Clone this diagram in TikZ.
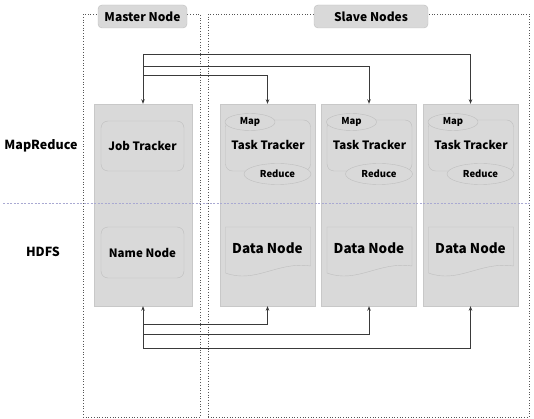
\documentclass[tikz,border=0pt]{standalone}
\usepackage{fontspec}
\setmainfont{Noto Sans CJK KR}
\usetikzlibrary{arrows.meta,shapes.geometric}
\definecolor{colfill}{HTML}{D9D9D9}
\definecolor{colline}{HTML}{C8C8C8}
\definecolor{inline}{HTML}{BEBEBE}
\definecolor{arrcol}{HTML}{3A3A3A}
\definecolor{sepcol}{HTML}{A9A9D2}
\definecolor{dotcol}{HTML}{555555}
\begin{document}
\begin{tikzpicture}[x=1pt,y=-1pt,
  outerbox/.style={draw=dotcol, dotted, line width=0.7pt, inner sep=0},
  lab/.style={draw=inline, fill=colfill, rounded corners=4pt, minimum height=23pt, inner sep=0, font=\bfseries\fontsize{12}{14}\selectfont},
  col/.style={draw=colline, fill=colfill, minimum width=95pt, minimum height=202pt, inner sep=0},
  inbox/.style={draw=inline, fill=colfill, rounded corners=7pt, inner sep=0, font=\bfseries\fontsize{11.5}{13}\selectfont},
  ell/.style={ellipse, draw=inline, fill=colfill, inner sep=0, font=\bfseries\fontsize{9.5}{11}\selectfont},
  dnshape/.style={draw=inline, fill=colfill},
  dntext/.style={font=\bfseries\fontsize{13.5}{15}\selectfont, inner sep=0},
  side/.style={font=\bfseries\fontsize{12.5}{14}\selectfont, inner sep=0},
  arr/.style={draw=arrcol, line width=0.9pt, -{Stealth[length=4.5pt,width=3.5pt]}},
  sep/.style={draw=sepcol, line width=0.8pt, dash pattern=on 2pt off 1.5pt}
]
\useasboundingbox (0,0) rectangle (534,419);
% outer dotted boxes
\node[outerbox, minimum width=117pt, minimum height=403pt] (mbox) at (141.5,215.5) {};
\node[outerbox, minimum width=321pt, minimum height=403pt] (sbox) at (368.5,215.5) {};
\node[lab, minimum width=89pt] (mlab) at (142.5,16.5) {Master Node};
\node[lab, minimum width=114pt] (slab) at (371,16.5) {Slave Nodes};
% side labels
\node[side] (mr) at (41,146) {MapReduce};
\node[side] (hdfs) at (43,252) {HDFS};
% master column
\node[col, minimum width=98pt] (m) at (143,205) {};
\node[inbox, minimum width=83pt, minimum height=50pt] (jt) at (142.5,146) {Job Tracker};
\node[inbox, minimum width=83pt, minimum height=51pt] (nn) at (142.5,252.5) {Name Node};
% slave columns
\foreach \i/\cx in {1/267.5,2/369,3/470.5}{
  \node[col] (s\i) at (\cx,205) {};
  \node[inbox, minimum width=85pt, minimum height=51pt] (tt\i) at ({\cx+0.5},145.5) {\raisebox{1pt}{Task Tracker}};
  \node[ell, minimum width=50pt, minimum height=17pt] (map\i) at ({\cx-17.5},122) {Map};
  \node[ell, minimum width=67pt, minimum height=21pt] (red\i) at ({\cx+10},174) {Reduce};
  \path[dnshape] ({\cx-42},227) -- ({\cx+43},227) -- ({\cx+43},266)
     .. controls ({\cx+10},261) and ({\cx-12},284) .. ({\cx-42},273) -- cycle;
  \node[dntext] (dn\i) at (\cx,248) {Data Node};
}
% separator
\draw[sep] (3,203) -- (531,203);
% connectors
\coordinate (t3) at (143,54);
\coordinate (t2) at (143,66);
\coordinate (t1) at (143,75);
\coordinate (b1) at (143,324);
\coordinate (b2) at (143,334);
\coordinate (b3) at (143,348);
\draw[arr] (t3) -- (m.north);
\draw[arr] (t3) -| (s3.north);
\draw[arr] (t2) -| (s2.north);
\draw[arr] (t1) -| (s1.north);
\draw[arr] (b3) -- (m.south);
\draw[arr] (b3) -| (s3.south);
\draw[arr] (b2) -| (s2.south);
\draw[arr] (b1) -| (s1.south);
\end{tikzpicture}
\end{document}
